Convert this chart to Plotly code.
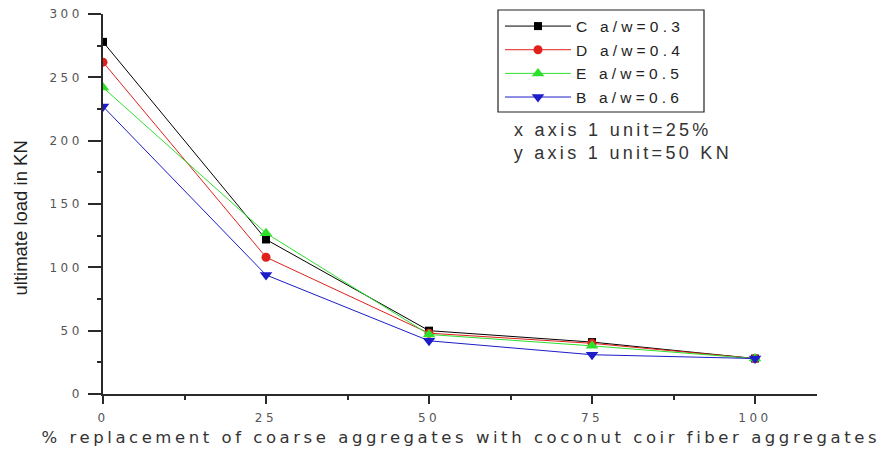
import plotly.graph_objects as go

# ---- data ----
x_pct = [0, 25, 50, 75, 100]
series_names = ["C a/w=0.3", "D a/w=0.4", "E a/w=0.5", "B a/w=0.6"]
load_C = [278, 122, 50, 41, 28]
load_D = [262, 108, 48, 40, 28]
load_E = [242, 127, 47, 38, 28]
load_B = [227, 94, 42, 31, 28]
x_ticks = [0, 25, 50, 75, 100]
y_ticks = [0, 50, 100, 150, 200, 250, 300]

colors = ["#000000", "#e0201c", "#2ee02e", "#1c1cc8"]
symbols = ["square", "circle", "triangle-up", "triangle-down"]
sizes = [8, 9, 11, 11]
values = [load_C, load_D, load_E, load_B]

W, H = 881, 458
L, R, T, B = 103, 64, 14, 64
pw, ph = W - L - R, H - T - B

def px_x(p):
    return (p - L) / pw

def px_y(p):
    return (H - B - p) / ph

fig = go.Figure()
for i, name in enumerate(series_names):
    fig.add_trace(go.Scatter(
        x=x_pct, y=values[i], name=name, mode="lines+markers",
        line=dict(color=colors[i], width=1),
        marker=dict(symbol=symbols[i], size=sizes[i], color=colors[i]),
        legendgroup=name,
    ))

axis_common = dict(
    showgrid=False, zeroline=False, showline=True, linecolor="#2a2a2a", linewidth=1.6,
    ticks="outside", tickcolor="#2a2a2a", tickwidth=1.5,
    tickfont=dict(family="DejaVu Sans", size=12, color="#555555"),
    automargin=False,
)
fig.update_xaxes(range=[0, 109.5], tickvals=x_ticks, ticklen=8,
                 minor=dict(dtick=12.5, ticklen=4, ticks="outside", tickcolor="#2a2a2a", tickwidth=1.5),
                 ticklabelstandoff=4, **axis_common)
fig.update_yaxes(range=[0, 300], tickvals=y_ticks, ticklen=13,
                 minor=dict(dtick=25, ticklen=4, ticks="outside", tickcolor="#2a2a2a", tickwidth=1.5),
                 ticklabelstandoff=3, **axis_common)

fig.update_layout(
    width=W, height=H,
    margin=dict(l=L, r=R, t=T, b=B, autoexpand=False),
    plot_bgcolor="white", paper_bgcolor="white",
    showlegend=True,
    legend=dict(
        x=px_x(500), y=px_y(9.5), xanchor="left", yanchor="top",
        bgcolor="rgba(0,0,0,0)", borderwidth=0,
        font=dict(family="Liberation Sans", size=15.5, color="#222222"),
        itemwidth=66, tracegroupgap=0.5,
    ),
    shapes=[dict(type="rect", xref="paper", yref="paper",
                 x0=px_x(498), x1=px_x(704), y0=px_y(112), y1=px_y(10),
                 line=dict(color="#222222", width=1.2), fillcolor="rgba(0,0,0,0)")],
    annotations=[
        dict(text="ultimate load in KN", xref="paper", yref="paper", x=px_x(20), y=px_y(218.5),
             textangle=-90, showarrow=False, xanchor="center", yanchor="middle",
             font=dict(family="Liberation Sans", size=18.5, color="#222222")),
        dict(text="% replacement of coarse aggregates with coconut coir fiber aggregates",
             xref="paper", yref="paper", x=px_x(461), y=px_y(437), showarrow=False,
             xanchor="center", yanchor="middle",
             font=dict(family="DejaVu Sans", size=16.5, color="#333333")),
        dict(text="x axis 1 unit=25%", xref="paper", yref="paper", x=px_x(613), y=px_y(130),
             showarrow=False, xanchor="center", yanchor="middle",
             font=dict(family="Liberation Sans", size=18, color="#333333")),
        dict(text="y axis 1 unit=50 KN", xref="paper", yref="paper", x=px_x(623), y=px_y(153),
             showarrow=False, xanchor="center", yanchor="middle",
             font=dict(family="Liberation Sans", size=18, color="#333333")),
    ],
)

post = """
var gd = document.getElementById('{plot_id}');
function sp(sel, v){ gd.querySelectorAll(sel).forEach(function(t){ t.style.letterSpacing = v; }); }
sp('g.xtick text', '3.5px');
sp('g.ytick text', '3.5px');
sp('text.legendtext', '4.2px');
sp('g.annotation[data-index="1"] text', '3.55px');
sp('g.annotation[data-index="2"] text', '3.3px');
sp('g.annotation[data-index="3"] text', '3.3px');
gd.querySelectorAll('g.legend g.scrollbox').forEach(function(e){ e.removeAttribute('clip-path'); e.style.clipPath = 'none'; });
"""

fig.write_html("out.html", post_script=post)
